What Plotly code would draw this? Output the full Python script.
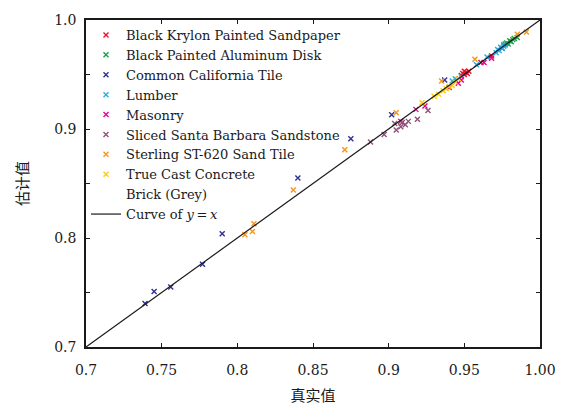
import plotly.graph_objects as go

# ---- data (true value, estimated value) ----
krylon_x = [0.948, 0.949, 0.950, 0.950, 0.951, 0.952, 0.953, 0.961, 0.968]
krylon_y = [0.949, 0.951, 0.950, 0.953, 0.952, 0.951, 0.953, 0.961, 0.967]

aluminum_x = [0.976, 0.977, 0.978, 0.979, 0.980, 0.981, 0.982, 0.983, 0.985]
aluminum_y = [0.977, 0.978, 0.979, 0.978, 0.981, 0.980, 0.982, 0.983, 0.984]

common_x = [0.739, 0.745, 0.756, 0.777, 0.790, 0.840, 0.875, 0.902, 0.937, 0.975]
common_y = [0.740, 0.751, 0.755, 0.776, 0.804, 0.855, 0.891, 0.913, 0.945, 0.974]

lumber_x = [0.942, 0.944, 0.948, 0.958, 0.965, 0.971, 0.972, 0.973, 0.974, 0.975, 0.976, 0.977]
lumber_y = [0.944, 0.946, 0.948, 0.959, 0.966, 0.970, 0.973, 0.972, 0.975, 0.974, 0.976, 0.977]

masonry_x = [0.908, 0.918, 0.924, 0.940, 0.946, 0.948, 0.963, 0.968]
masonry_y = [0.907, 0.918, 0.921, 0.938, 0.942, 0.945, 0.961, 0.965]

sandstone_x = [0.888, 0.897, 0.904, 0.905, 0.908, 0.909, 0.911, 0.913, 0.919, 0.926]
sandstone_y = [0.888, 0.895, 0.905, 0.899, 0.902, 0.906, 0.904, 0.907, 0.909, 0.917]

sterling_x = [0.805, 0.810, 0.811, 0.837, 0.871, 0.905, 0.935, 0.957, 0.985, 0.991]
sterling_y = [0.803, 0.806, 0.813, 0.844, 0.881, 0.915, 0.944, 0.964, 0.987, 0.989]

concrete_x = [0.922, 0.930, 0.933, 0.936, 0.938, 0.940, 0.942, 0.944, 0.946]
concrete_y = [0.924, 0.930, 0.932, 0.935, 0.937, 0.939, 0.940, 0.943, 0.946]

brick_x = [None]
brick_y = [None]

names = ["Black Krylon Painted Sandpaper", "Black Painted Aluminum Disk",
         "Common California Tile", "Lumber", "Masonry",
         "Sliced Santa Barbara Sandstone", "Sterling ST-620 Sand Tile",
         "True Cast Concrete", "Brick (Grey)"]
xs = [krylon_x, aluminum_x, common_x, lumber_x, masonry_x, sandstone_x,
      sterling_x, concrete_x, brick_x]
ys = [krylon_y, aluminum_y, common_y, lumber_y, masonry_y, sandstone_y,
      sterling_y, concrete_y, brick_y]
colors = ["#e8112d", "#1a9e48", "#2e3192", "#29abe2", "#ec008c",
          "#8e5279", "#f7941d", "#ffcc00", "rgba(255,255,255,0)"]

line_x = [0.7, 1.0]
line_y = [0.7, 1.0]

x_ticks = [0.7, 0.75, 0.8, 0.85, 0.9, 0.95, 1.0]
x_ticktext = ["0.7", "0.75", "0.8", "0.85", "0.9", "0.95", "1.00"]
y_ticks = [0.7, 0.75, 0.8, 0.85, 0.9, 0.95, 1.0]
y_ticktext = ["0.7", "", "0.8", "", "0.9", "", "1.0"]

SERIF = "DejaVu Serif"

fig = go.Figure()
for n, x, y, c in zip(names, xs, ys, colors):
    fig.add_trace(go.Scatter(
        x=x, y=y, mode="markers", name=n, showlegend=True,
        marker=dict(symbol="x-thin", size=5, color=c,
                    line=dict(width=1.4, color=c)),
    ))
fig.add_trace(go.Scatter(
    x=line_x, y=line_y, mode="lines", name="Curve of <i>y</i>\u2009=\u2009<i>x</i>",
    line=dict(color="#1a1a1a", width=1.2),
))

axis_common = dict(showline=True, linecolor="#1a1a1a", linewidth=1.5, mirror="ticks",
                   ticks="inside", ticklen=4, tickwidth=1, tickcolor="#1a1a1a",
                   showgrid=False, zeroline=False,
                   tickfont=dict(family=SERIF, size=14, color="#1a1a1a"))

fig.update_xaxes(range=[0.7, 1.0], tickvals=x_ticks, ticktext=x_ticktext,
                 ticklabelstandoff=9,
                 title=dict(text="真实值", font=dict(family="Noto Sans CJK SC", size=15, color="#1a1a1a"),
                            standoff=14),
                 **axis_common)
fig.update_yaxes(range=[0.7, 1.0], tickvals=y_ticks, ticktext=y_ticktext,
                 ticklabelstandoff=5,
                 title=dict(text="估计值", font=dict(family="Noto Sans CJK SC", size=15, color="#1a1a1a"),
                            standoff=22),
                 **axis_common)

fig.update_layout(
    width=587, height=414,
    margin=dict(l=86, r=47, t=13, b=62),
    plot_bgcolor="white", paper_bgcolor="white",
    showlegend=True,
    legend=dict(x=0.0, y=1.0, xanchor="left", yanchor="top",
                bgcolor="rgba(0,0,0,0)", borderwidth=0,
                font=dict(family=SERIF, size=13, color="#1a1a1a"),
                tracegroupgap=0),
)

fig.write_html("out.html")
